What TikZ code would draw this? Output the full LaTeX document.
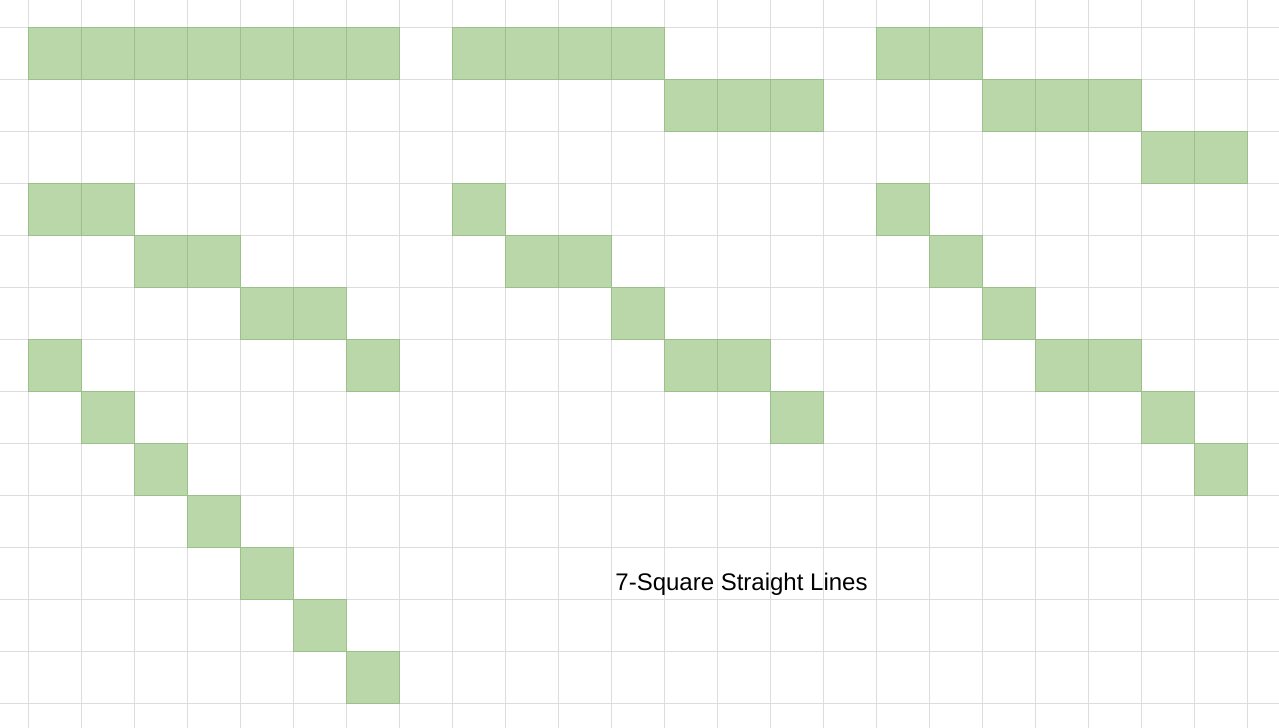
\documentclass[tikz,border=0pt]{standalone}
\usepackage{fontspec}
\setmainfont{Liberation Sans}
\usepackage{xcolor}
\definecolor{cellgreen}{HTML}{B9D7A8}
\definecolor{celledge}{HTML}{9CC08A}
\definecolor{gridgray}{HTML}{DDDDDD}

\begin{document}
\begin{tikzpicture}[x=0.75pt,y=-0.75pt,
  gridline/.style={draw=gridgray,line width=0.75pt},
  cell/.style={fill=cellgreen,draw=celledge,line width=0.75pt}]
\useasboundingbox (0,0) rectangle (1279,728);
\fill[white] (0,0) rectangle (1279,728);
% background grid
\foreach \k in {0,...,23} \draw[gridline] (28+53*\k,0) -- (28+53*\k,728);
\foreach \k in {0,...,13} \draw[gridline] (0,27+52*\k) -- (1279,27+52*\k);
% filled squares, column/row of each
\foreach \c/\r in {0/0,1/0,2/0,3/0,4/0,5/0,6/0,
                   0/3,1/3,2/4,3/4,4/5,5/5,6/6,
                   0/6,1/7,2/8,3/9,4/10,5/11,6/12,
                   8/0,9/0,10/0,11/0,12/1,13/1,14/1,
                   8/3,9/4,10/4,11/5,12/6,13/6,14/7,
                   16/0,17/0,18/1,19/1,20/1,21/2,22/2,
                   16/3,17/4,18/5,19/6,20/6,21/7,22/8}
  \draw[cell] (28+53*\c,27+52*\r) rectangle ++(53,52);
% caption
\node[font=\fontsize{18}{21}\selectfont,anchor=base,inner sep=0pt] (title) at (741.5,590) {7-Square Straight Lines};
\end{tikzpicture}
\end{document}
